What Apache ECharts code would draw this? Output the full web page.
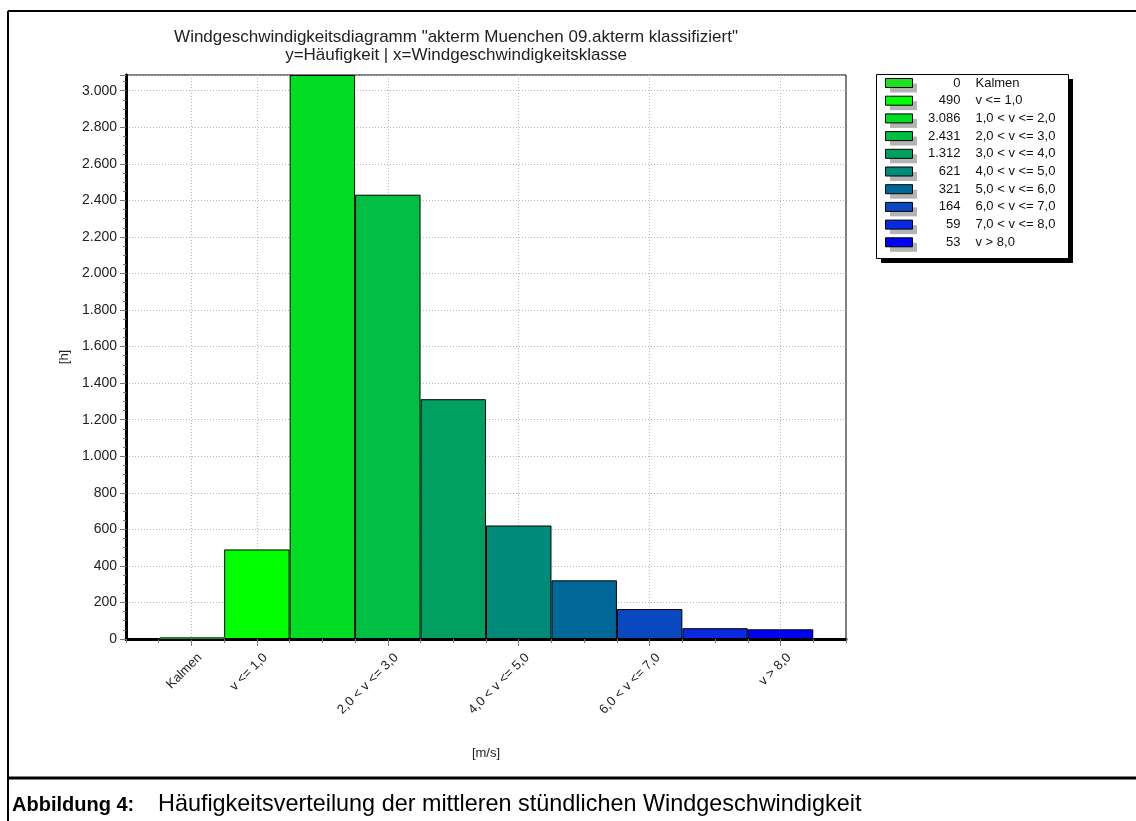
<!DOCTYPE html>
<html>
<head>
<meta charset="utf-8">
<script src="https://cdn.jsdelivr.net/npm/echarts@6/dist/echarts.min.js"></script>
<style>
html,body{margin:0;padding:0;background:#fff;}
#chart{width:1136px;height:821px;}
</style>
</head>
<body>
<div id="chart"></div>
<script>
// ---- data ----
var categories = ['Kalmen', 'v <= 1,0', '1,0 < v <= 2,0', '2,0 < v <= 3,0', '3,0 < v <= 4,0',
                  '4,0 < v <= 5,0', '5,0 < v <= 6,0', '6,0 < v <= 7,0', '7,0 < v <= 8,0', 'v > 8,0'];
var tickLabels = ['Kalmen', 'v <= 1,0', '', '2,0 < v <= 3,0', '', '4,0 < v <= 5,0', '', '6,0 < v <= 7,0', '', 'v > 8,0'];
var hours = [0, 490, 3086, 2431, 1312, 621, 321, 164, 59, 53];
var titleLines = ['Windgeschwindigkeitsdiagramm "akterm Muenchen 09.akterm klassifiziert"',
                  'y=Häufigkeit | x=Windgeschwindigkeitsklasse'];
var yAxisName = '[h]';
var xAxisName = '[m/s]';
var captionLabel = 'Abbildung 4:';
var captionText = 'Häufigkeitsverteilung der mittleren stündlichen Windgeschwindigkeit';

// ---- styles ----
var barColors = ['#1ee01e', '#00ff00', '#00dd22', '#00bf42', '#00a060', '#008a7a', '#006898', '#0a48c0', '#0a28e0', '#0000f5'];
var legendFont = '13px "Liberation Sans"';

function fmt(v) {
  return String(v).replace(/\B(?=(\d{3})+(?!\d))/g, '.');
}
var measureCtx = document.createElement('canvas').getContext('2d');
measureCtx.font = legendFont;
function textW(s) { return measureCtx.measureText(s).width; }

// padded category list: empty slot on both ends
var xData = [''].concat(tickLabels).concat(['']);
function showAt(idx) { return idx >= 1 && idx <= 10 && tickLabels[idx - 1] !== ''; }

var series = categories.map(function (name, i) {
  var d = xData.map(function () { return '-'; });
  d[i + 1] = hours[i];
  return {
    name: name,
    type: 'bar',
    stack: 'all',
    barCategoryGap: 0,
    data: d,
    itemStyle: { color: barColors[i], borderColor: '#000', borderWidth: 1 },
    emphasis: { disabled: true },
    animation: false
  };
});

// legend rich styles: right-align value column via left padding
var legendRich = {
  l: { padding: [0, 0, 0, 15], fontFamily: 'Liberation Sans', fontSize: 13, lineHeight: 14, color: '#111' }
};
categories.forEach(function (name, i) {
  var s = fmt(hours[i]);
  legendRich['v' + i] = { padding: [0, 0, 0, Math.max(0, 43 - textW(s))], fontFamily: 'Liberation Sans', fontSize: 13, lineHeight: 14, color: '#111' };
});
function legendFormatter(name) {
  var i = categories.indexOf(name);
  return '{v' + i + '|' + fmt(hours[i]) + '}{l|' + name + '}';
}

var legendBase = {
  orient: 'vertical',
  padding: [2, 9, 9, 9],
  itemWidth: 27,
  itemHeight: 9,
  itemGap: 3.7,
  selectedMode: false,
  icon: 'rect',
  data: categories,
  formatter: legendFormatter
};

var chart = echarts.init(document.getElementById('chart'), null, { renderer: 'canvas' });
chart.setOption({
  backgroundColor: '#fff',
  animation: false,
  title: {
    text: titleLines.join('\n'),
    left: 451,
    top: 23,
    textAlign: 'center',
    textStyle: { fontFamily: 'Liberation Sans', fontSize: 17, fontWeight: 'normal', color: '#222', lineHeight: 18 }
  },
  legend: [
    // grey icon shadows (drawn first, offset)
    Object.assign({}, legendBase, {
      left: 881, top: 79, z: 2,
      itemStyle: { color: '#b4b4b4', borderWidth: 0 },
      textStyle: { color: 'rgba(0,0,0,0)', fontFamily: 'Liberation Sans', fontSize: 13, lineHeight: 14,
        rich: (function () { var r = {}; for (var k in legendRich) { r[k] = Object.assign({}, legendRich[k], { color: 'rgba(0,0,0,0)' }); } return r; })() }
    }),
    Object.assign({}, legendBase, {
      left: 876, top: 74, z: 3,
      itemStyle: { borderColor: '#000', borderWidth: 1 },
      textStyle: { fontFamily: 'Liberation Sans', fontSize: 13, color: '#111', lineHeight: 14, rich: legendRich }
    })
  ],
  grid: {
    left: 126, top: 75, right: 290, bottom: 182,
    show: true, borderColor: '#000', borderWidth: 1, backgroundColor: '#fff'
  },
  xAxis: [{
    type: 'category',
    data: xData,
    boundaryGap: false,
    name: xAxisName,
    nameLocation: 'middle',
    nameGap: 108,
    nameTextStyle: { fontFamily: 'Liberation Sans', fontSize: 13, color: '#222' },
    axisLine: { lineStyle: { color: '#000', width: 3 } },
    axisTick: { show: true, length: 7, interval: function (idx) { return showAt(idx); }, lineStyle: { color: '#777', width: 1 } },
    axisLabel: {
      interval: function (idx) { return showAt(idx); },
      rotate: 45, margin: 25, padding: [0, -12, 0, 0],
      fontFamily: 'Liberation Sans', fontSize: 13, color: '#222'
    },
    splitLine: {
      show: true,
      interval: function (idx) { return showAt(idx); },
      lineStyle: { color: '#b8b8b8', type: [1, 2], width: 1 }
    }
  }, {
    type: 'value',
    min: 0, max: 11, interval: 0.5,
    position: 'bottom',
    axisLine: { show: false },
    axisTick: { show: true, length: 4, lineStyle: { color: '#777', width: 1 } },
    axisLabel: { show: false },
    splitLine: { show: false }
  }],
  yAxis: {
    type: 'value',
    min: 0, max: 3086, interval: 200,
    name: yAxisName,
    nameLocation: 'middle',
    nameGap: 55,
    nameTextStyle: { fontFamily: 'Liberation Sans', fontSize: 13, color: '#222' },
    axisLine: { show: true, lineStyle: { color: '#000', width: 3 } },
    axisTick: { show: true, length: 6, lineStyle: { color: '#777' } },
    minorTick: { show: true, splitNumber: 4, length: 3, lineStyle: { color: '#777' } },
    axisLabel: {
      showMaxLabel: false, margin: 9,
      fontFamily: 'Liberation Sans', fontSize: 14, color: '#222',
      formatter: function (v) { return fmt(v); }
    },
    splitLine: { show: true, lineStyle: { color: '#b8b8b8', type: [1, 2], width: 1 } }
  },
  series: series,
  graphic: [
    { type: 'line', shape: { x1: 8, y1: 11, x2: 1136, y2: 11 }, style: { stroke: '#000', lineWidth: 2 }, silent: true },
    { type: 'line', shape: { x1: 8, y1: 11, x2: 8, y2: 821 }, style: { stroke: '#000', lineWidth: 2 }, silent: true },
    { type: 'line', shape: { x1: 8, y1: 778, x2: 1136, y2: 778 }, style: { stroke: '#000', lineWidth: 3 }, silent: true },
    { type: 'line', shape: { x1: 160, y1: 638, x2: 225, y2: 638 }, style: { stroke: '#2a7a2a', lineWidth: 2 }, silent: true, z: 100 },
    // legend frame with hard drop shadow
    { type: 'rect', shape: { x: 881, y: 79, width: 192, height: 184 }, style: { fill: '#000' }, silent: true, z: 0 },
    { type: 'rect', shape: { x: 876.5, y: 74.5, width: 192, height: 184 }, style: { fill: '#fff', stroke: '#000', lineWidth: 1 }, silent: true, z: 1 },
    { type: 'text', left: 12, top: 795, style: { text: captionLabel, font: 'bold 20px "Liberation Sans"', fill: '#000' }, silent: true },
    { type: 'text', left: 158, top: 793, style: { text: captionText, font: '23.4px "Liberation Sans"', fill: '#000' }, silent: true }
  ]
});
</script>
</body>
</html>
